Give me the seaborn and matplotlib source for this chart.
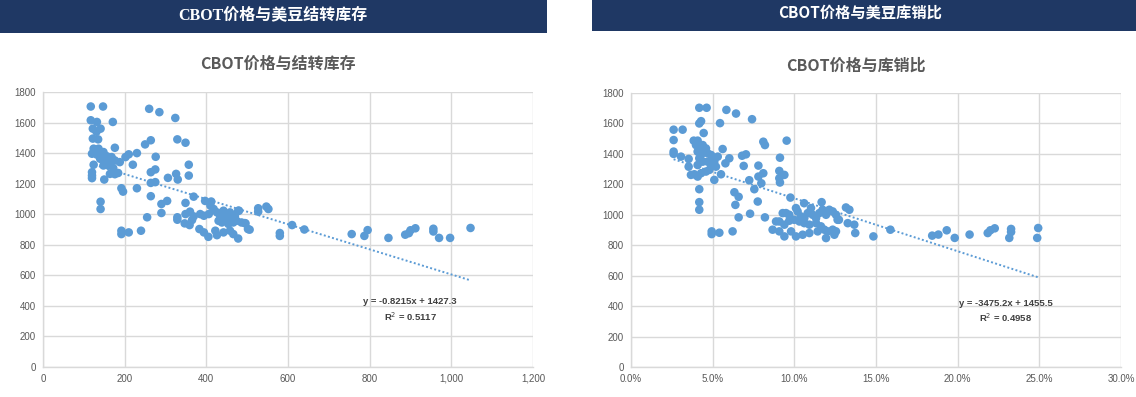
import numpy as np
import pandas as pd
import matplotlib
matplotlib.use("Agg")
import matplotlib.pyplot as plt
from matplotlib.patches import Rectangle
from matplotlib.ticker import FuncFormatter, PercentFormatter
import seaborn as sns

# ---------------- data ----------------
stock_x = [117,147,260,285,324,117,132,171,122,141,131,122,135,264,250,329,349,176,
           124,136,148,120,132,144,156,168,140,152,164,176,188,124,148,160,172,184,164,176,
           202,210,230,276,220,357,264,275,326,357,306,330,150,120,120,120,264,275,192,196,
           230,141,141,264,369,397,412,290,304,349,290,255,329,329,349,360,347,359,365,369,
           385,394,406,410,418,426,434,442,450,458,462,470,478,446,454,466,474,486,494,502,
           430,438,383,394,405,422,426,442,458,466,478,192,192,210,240,527,527,547,552,580,
           580,610,640,756,787,795,846,887,896,900,912,956,956,970,997,1047,506,496,480]
stock_price = [1705,1705,1690,1668,1630,1615,1604,1604,1560,1560,1540,1495,1490,1484,1457,1490,1468,1435,
               1429,1429,1407,1396,1390,1385,1380,1374,1363,1352,1341,1352,1341,1324,1319,1319,1302,1270,1264,1262,
               1374,1392,1400,1376,1324,1324,1275,1293,1264,1253,1238,1227,1227,1275,1253,1236,1205,1210,1170,1148,
               1170,1082,1034,1118,1115,1087,1083,1067,1087,1074,1008,980,980,964,1001,1017,940,929,962,986,
               1001,990,1001,1056,1034,1012,990,1023,1001,1012,979,990,1023,957,936,946,957,946,942,903,
               957,946,903,881,852,892,863,881,892,870,841,892,870,881,892,1039,1017,1050,1034,877,
               858,929,900,870,858,896,845,866,876,895,908,905,887,845,845,910,899,940,1023]

ratio_pct = [4.18,4.63,5.84,6.43,7.41,4.18,4.29,5.45,2.61,3.16,4.45,2.61,3.84,4.08,8.1,8.2,9.53,2.61,2.61,3.06,3.53,3.53,
             3.98,4.18,4.39,4.59,4.08,4.29,4.49,4.69,4.9,5.1,5.31,4.18,4.39,4.69,4.9,5.1,4.08,3.67,3.88,4.08,4.29,4.59,4.8,5.2,5.51,5.1,5.61,6.02,5.78,
             6.8,7.04,6.9,7.8,9.12,9.08,9.39,8.1,7.8,7.98,7.24,9.08,9.12,7.55,4.18,6.33,6.59,4.18,4.18,9.76,7.76,6.39,10.6,11.67,7.29,6.59,8.2,4.94,4.94,5.41,6.22,
             9.29,9.49,9.69,10.1,10.2,10.41,10.61,10.82,11.02,11.12,11.33,11.53,11.73,11.94,12.14,12.35,12.55,12.65,13.16,13.37,13.27,13.67,
             8.88,9.08,9.39,9.69,10.0,10.31,10.61,10.92,11.33,11.63,11.84,12.04,12.35,12.55,11.43,8.67,9.08,9.39,9.8,10.1,10.51,10.92,11.94,12.45,13.73,14.84,15.88,
             18.44,18.82,19.33,19.82,20.73,21.84,22.0,22.27,23.27,23.27,23.16,24.93,24.87,12.73]
ratio_price = [1703,1703,1689,1665,1628,1600,1615,1602,1559,1559,1537,1491,1487,1487,1480,1458,1487,1415,1400,1382,1367,1316,
               1458,1436,1458,1436,1415,1393,1415,1404,1393,1371,1382,1371,1349,1349,1327,1349,1327,1262,1266,1251,1273,1284,1295,1316,1266,1229,1432,1371,1338,
               1388,1397,1321,1323,1375,1288,1262,1273,1251,1207,1227,1240,1212,1168,1168,1148,1118,1083,1033,1113,1087,1065,1076,1083,1007,983,983,891,873,882,891,
               1011,1011,1000,1044,1022,989,978,1011,1044,1000,978,1011,1033,1000,1033,1022,1000,967,1048,1033,945,935,
               956,956,935,961,967,956,945,935,945,924,902,891,902,891,891,902,891,858,891,858,869,880,847,869,880,858,902,
               863,870,898,848,870,880,898,911,907,887,848,913,848,967]

header_titles = ["CBOT价格与美豆结转库存", "CBOT价格与美豆库销比"]
chart_titles = ["CBOT价格与结转库存", "CBOT价格与库销比"]
trend_slope = [-0.8215, -3475.2]
trend_intercept = [1427.3, 1455.5]
trend_r2 = [0.5117, 0.4958]

left_df = pd.DataFrame({"x": stock_x, "y": stock_price})
right_df = pd.DataFrame({"x": np.array(ratio_pct) / 100.0, "y": ratio_price})

# ---------------- style ----------------
sns.set_theme(style="white")
plt.rcParams["font.family"] = ["Noto Sans CJK SC", "DejaVu Sans"]

DOT = "#5B9BD5"
NAVY = "#1F3864"
GRAY = "#595959"
GRID = "#D9D9D9"

W, H = 1136, 397
fig = plt.figure(figsize=(W / 100, H / 100), dpi=100)
fig.patch.set_facecolor("white")

def px_rect(x0, y0, x1, y1):
    return [x0 / W, 1 - y1 / H, (x1 - x0) / W, (y1 - y0) / H]

# header bars
fig.patches.append(Rectangle((0, 1 - 33 / H), 547 / W, 33 / H, transform=fig.transFigure,
                             facecolor=NAVY, edgecolor="none"))
fig.patches.append(Rectangle((592 / W, 1 - 30.5 / H), (W - 592) / W, 30.5 / H, transform=fig.transFigure,
                             facecolor=NAVY, edgecolor="none"))
fig.text(273 / W, 1 - 15 / H, header_titles[0], color="white", fontsize=11.5, fontweight="bold",
         ha="center", va="center", family=["Liberation Serif", "Noto Sans CJK SC"])
fig.text(860 / W, 1 - 13 / H, header_titles[1], color="white", fontsize=11, fontweight="bold",
         ha="center", va="center", family=["Noto Sans CJK SC", "DejaVu Sans"])

# chart titles
fig.text(278 / W, 1 - 64 / H, chart_titles[0], color=GRAY, fontsize=11.5, fontweight="bold",
         ha="center", va="center")
fig.text(856 / W, 1 - 66 / H, chart_titles[1], color=GRAY, fontsize=11.5, fontweight="bold",
         ha="center", va="center")

ax1 = fig.add_axes(px_rect(43, 92, 533, 367))
ax2 = fig.add_axes(px_rect(631, 93, 1121, 367))

def style_axis(ax):
    ax.set_facecolor("white")
    ax.grid(True, color=GRID, linewidth=1.0)
    ax.set_axisbelow(True)
    for s in ["top", "right"]:
        ax.spines[s].set_visible(False)
    for s in ["left", "bottom"]:
        ax.spines[s].set_color(GRID)
        ax.spines[s].set_linewidth(1.0)
    ax.tick_params(axis="both", which="both", length=0, labelsize=7, colors=GRAY, pad=5)
    for lab in ax.get_xticklabels() + ax.get_yticklabels():
        lab.set_family(["Liberation Sans", "DejaVu Sans"])
    ax.set_xlabel("")
    ax.set_ylabel("")

sns.scatterplot(data=left_df, x="x", y="y", ax=ax1, color=DOT, s=38, edgecolor="none", linewidth=0)
sns.scatterplot(data=right_df, x="x", y="y", ax=ax2, color=DOT, s=38, edgecolor="none", linewidth=0)

# trend lines
for ax, df, m, b in [(ax1, left_df, trend_slope[0], trend_intercept[0]),
                     (ax2, right_df, trend_slope[1], trend_intercept[1])]:
    xs = np.array([df["x"].min(), df["x"].max()])
    ax.plot(xs, m * xs + b, linestyle=(0, (1, 1.2)), color=DOT, linewidth=1.4)

ax1.set_xlim(0, 1200)
ax1.set_ylim(0, 1800)
ax1.set_xticks(np.arange(0, 1201, 200))
ax1.set_yticks(np.arange(0, 1801, 200))
ax1.xaxis.set_major_formatter(FuncFormatter(lambda v, p: f"{int(v):,}"))

ax2.set_xlim(0, 0.30)
ax2.set_ylim(0, 1800)
ax2.set_xticks(np.arange(0, 0.301, 0.05))
ax2.set_yticks(np.arange(0, 1801, 200))
ax2.xaxis.set_major_formatter(PercentFormatter(1.0, decimals=1))

style_axis(ax1)
style_axis(ax2)

eq_font = dict(color="#404040", fontsize=6.8, fontweight="bold", ha="center", va="center",
               family=["Liberation Sans", "DejaVu Sans"])
fig.text(410 / W, 1 - 302 / H, f"y = {trend_slope[0]:.4f}x + {trend_intercept[0]:.1f}", **eq_font)
fig.text(410 / W, 1 - 316.5 / H, f"R$^2$ = {trend_r2[0]:.4f}", **eq_font)
fig.text(1006 / W, 1 - 304 / H, f"y = {trend_slope[1]:.1f}x + {trend_intercept[1]:.1f}", **eq_font)
fig.text(1006 / W, 1 - 317.5 / H, f"R$^2$ = {trend_r2[1]:.4f}", **eq_font)

fig.savefig("out.png", dpi=100, facecolor="white")
